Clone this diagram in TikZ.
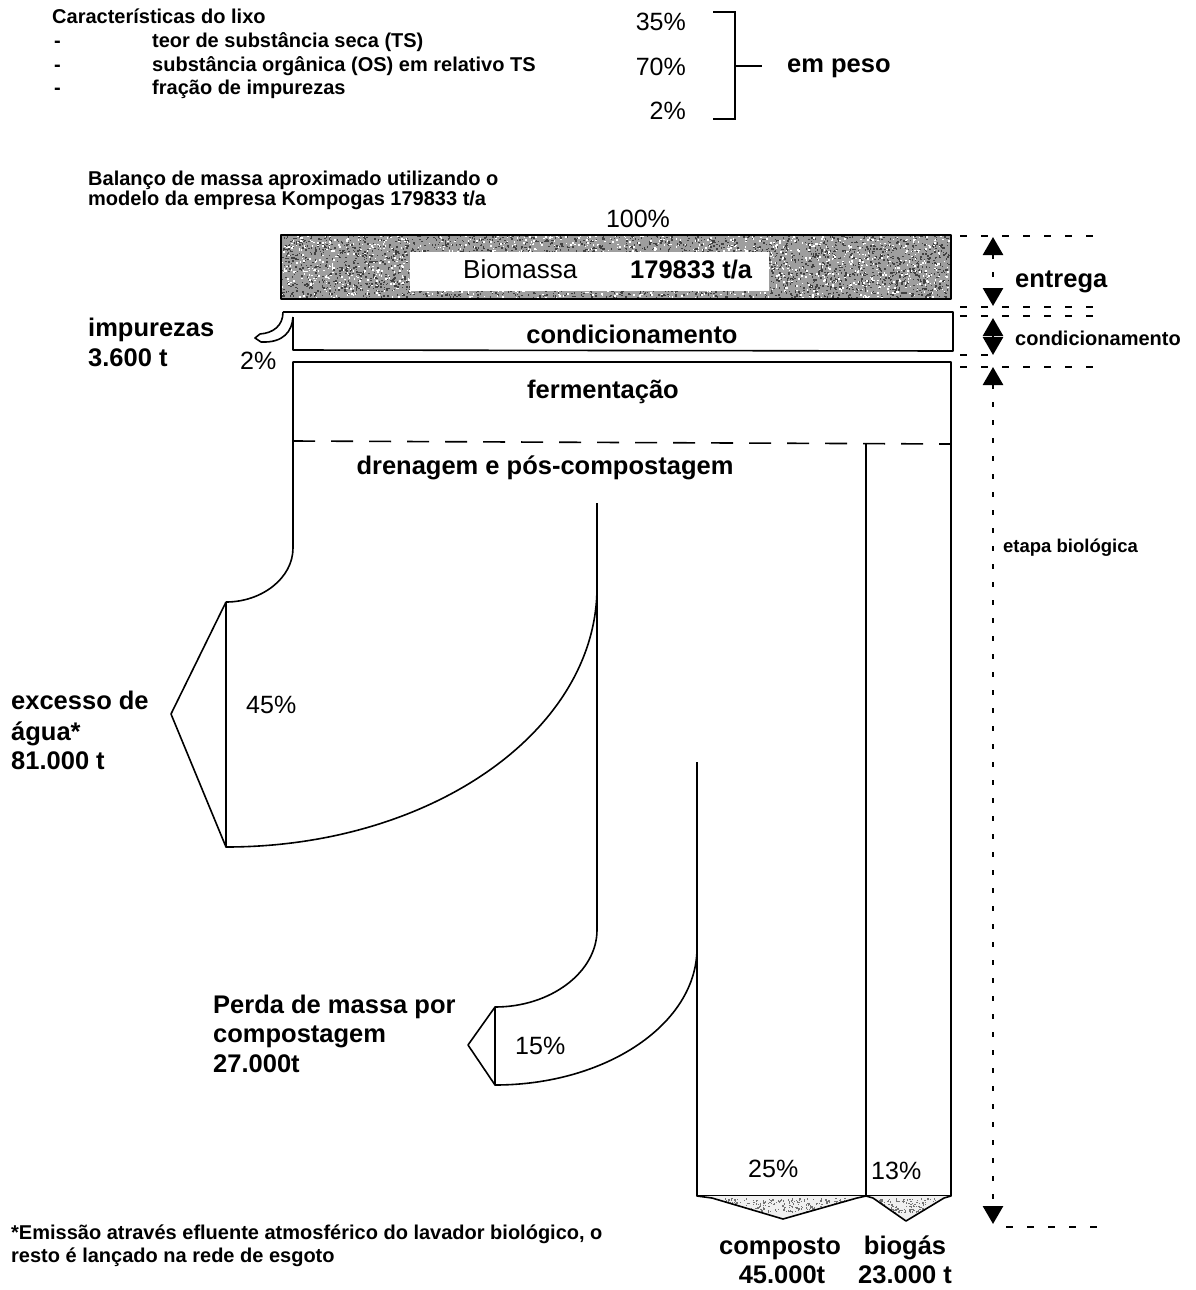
\documentclass[tikz,border=0pt]{standalone}
\usepackage{fontspec}
\setmainfont{Liberation Sans}
\usetikzlibrary{arrows.meta}

\begin{document}
\begin{tikzpicture}[x=1pt,y=-1pt,
  flow/.style={line width=1.6pt, line join=round},
  lbl/.style={inner sep=0pt, anchor=base west, font=\fontsize{25.5}{30}\selectfont\bfseries},
  lblc/.style={inner sep=0pt, anchor=base, font=\fontsize{25.5}{30}\selectfont\bfseries},
  pct/.style={inner sep=0pt, anchor=base west, font=\fontsize{25}{30}\selectfont},
  note/.style={inner sep=0pt, anchor=base west, font=\fontsize{20}{24}\selectfont\bfseries},
  guide/.style={line width=2pt, dash pattern=on 7pt off 14pt},
  dim/.style={line width=2.8pt, dash pattern=on 5pt off 13pt,
    {Triangle[length=18pt,width=20pt]}-{Triangle[length=18pt,width=20pt]}},
  speck/.style={fill=black!75},
]
\useasboundingbox (0,0) rectangle (1196,1290);

% ---------- waste characteristics ----------
\node[note] (title) at (52,24) {Características do lixo};
\node[note] (d1) at (54,48) {-};
\node[note] (d2) at (54,71) {-};
\node[note] (d3) at (54,95) {-};
\node[note] (ts) at (152,48) {teor de substância seca (TS)};
\node[note] (os) at (152,71) {substância orgânica (OS) em relativo TS};
\node[note] (imp) at (152,95) {fração de impurezas};
\node[pct, anchor=base east] (p35) at (686,31) {35\%};
\node[pct, anchor=base east] (p70) at (686,75) {70\%};
\node[pct, anchor=base east] (p2) at (686,119) {2\%};
\draw[line width=1.6pt] (713,12) -- (735,12) -- (735,119) -- (713,119);
\draw[line width=1.6pt] (735,66) -- (762,66);
\node[lbl] (peso) at (787,72) {em peso};

% ---------- mass balance heading ----------
\node[note] (bal1) at (88,185) {Balanço de massa aproximado utilizando o};
\node[note] (bal2) at (88,205) {modelo da empresa Kompogas 179833 t/a};
\node[pct, anchor=base] (p100) at (638,227) {100\%};

% ---------- delivered biomass (grainy bar) ----------
\fill[black!38] (281,235) rectangle (951,299);
\pgfmathsetseed{4711}
\foreach \i in {1,...,3200}{
  \pgfmathsetmacro\rx{281+668*rnd}\pgfmathsetmacro\ry{235+62*rnd}
  \fill[speck] (\rx,\ry) rectangle ++(1.5,1.5);
}
\foreach \i in {1,...,1500}{
  \pgfmathsetmacro\rx{281+668*rnd}\pgfmathsetmacro\ry{235+62*rnd}
  \fill[white] (\rx,\ry) rectangle ++(1.5,1.5);
}
\fill[white] (410,252) rectangle (769,291);
\draw[flow] (281,235) rectangle (951,299);
\node[pct, font=\fontsize{26}{30}\selectfont] (bio) at (463,278) {Biomassa};
\node[lbl] (bioq) at (630,278) {179833 t/a};

% ---------- conditioning with impurity offtake ----------
\draw[flow] (283,312) -- (953,312) -- (953,351) -- (293,350) -- (293,317);
\draw[flow] (283,312) .. controls (283,326) and (273,333) .. (260,334)
  -- (255,338) -- (261,342) .. controls (284,343) and (292,331) .. (293,317);
\node[lblc] (cond) at (632,343) {condicionamento};
\node[lbl] (impz) at (88,336) {impurezas};
\node[lbl] (impt) at (88,366) {3.600 t};
\node[pct] (p2b) at (240,369) {2\%};

% ---------- fermentation and post-composting ----------
\draw[flow] (226,602) .. controls (262,602) and (293,578) .. (293,548)
  -- (293,362) -- (951,362) -- (951,1196) -- (697,1196) -- (697,762);
\draw[flow, dash pattern=on 22pt off 16pt] (293,441) -- (951,444);
\draw[flow] (866,444) -- (866,1196);
\node[lblc] (ferm) at (603,398) {fermentação};
\node[lblc] (dren) at (545,474) {drenagem e pós-compostagem};

% excess water branch
\draw[flow] (226,602) -- (226,847) .. controls (431,847) and (597,731) .. (597,587);
\draw[flow] (226,602) -- (171,714) -- (226,847);
\node[pct] (p45) at (246,713) {45\%};
\node[lbl] (ex1) at (11,709) {excesso de};
\node[lbl] (ex2) at (11,740) {água*};
\node[lbl] (ex3) at (11,769) {81.000 t};

% composting loss branch
\draw[flow] (597,503) -- (597,930) .. controls (597,972) and (551,1007) .. (495,1007)
  -- (495,1085) .. controls (606,1085) and (697,1024) .. (697,948);
\draw[flow] (495,1007) -- (468,1045) -- (495,1085);
\node[pct] (p15) at (515,1054) {15\%};
\node[lbl] (pe1) at (213,1013) {Perda de massa por};
\node[lbl] (pe2) at (213,1042) {compostagem};
\node[lbl] (pe3) at (213,1072) {27.000t};

% ---------- products ----------
\begin{scope}
  \clip (697,1196) -- (712,1198) -- (783,1219) -- (857,1198) -- (866,1196) -- cycle;
  \fill[black!6] (690,1190) rectangle (870,1225);
  \foreach \i in {1,...,260}{
    \pgfmathsetmacro\rx{720+125*rnd}\pgfmathsetmacro\ry{1198+14*rnd}
    \fill[black!55] (\rx,\ry) rectangle ++(1.3,1.3);
  }
\end{scope}
\draw[flow] (697,1196) -- (712,1198) -- (783,1219) -- (857,1198) -- (866,1196);
\begin{scope}
  \clip (866,1196) -- (873,1198) -- (906,1221) -- (944,1198) -- (951,1196) -- cycle;
  \fill[black!6] (860,1190) rectangle (955,1225);
  \foreach \i in {1,...,140}{
    \pgfmathsetmacro\rx{878+58*rnd}\pgfmathsetmacro\ry{1198+14*rnd}
    \fill[black!55] (\rx,\ry) rectangle ++(1.3,1.3);
  }
\end{scope}
\draw[flow] (866,1196) -- (873,1198) -- (906,1221) -- (944,1198) -- (951,1196);
\node[pct] (p25) at (748,1177) {25\%};
\node[pct] (p13) at (871,1179) {13\%};
\node[lblc] (comp1) at (780,1254) {composto};
\node[lblc] (comp2) at (782,1283) {45.000t};
\node[lblc] (bg1) at (905,1254) {biogás};
\node[lblc] (bg2) at (905,1283) {23.000 t};

% ---------- stage dimensions ----------
\draw[guide] (960,236) -- (1095,236);
\draw[guide] (960,307) -- (1095,307);
\draw[guide] (960,316) -- (1095,316);
\draw[guide] (960,355) -- (1000,355);
\draw[guide] (960,367) -- (1100,367);
\draw[guide] (1006,1227) -- (1100,1227);
\coordinate (e1) at (993,237);
\coordinate (e2) at (993,306);
\coordinate (c1) at (993,318);
\coordinate (c2) at (993,355);
\coordinate (b1) at (993,367);
\coordinate (b2) at (993,1224);
\draw[dim] (e1) -- (e2);
\draw[dim] (c1) -- (c2);
\draw[dim] (b1) -- (b2);
\node[lbl] (entr) at (1015,287) {entrega};
\node[note] (condr) at (1015,345) {condicionamento};
\node[note, font=\fontsize{18.5}{22}\selectfont\bfseries] (etapa) at (1003,552) {etapa biológica};

% ---------- footnote ----------
\node[note] (fn1) at (11,1239) {*Emissão através efluente atmosférico do lavador biológico, o};
\node[note] (fn2) at (11,1262) {resto é lançado na rede de esgoto};
\end{tikzpicture}
\end{document}
